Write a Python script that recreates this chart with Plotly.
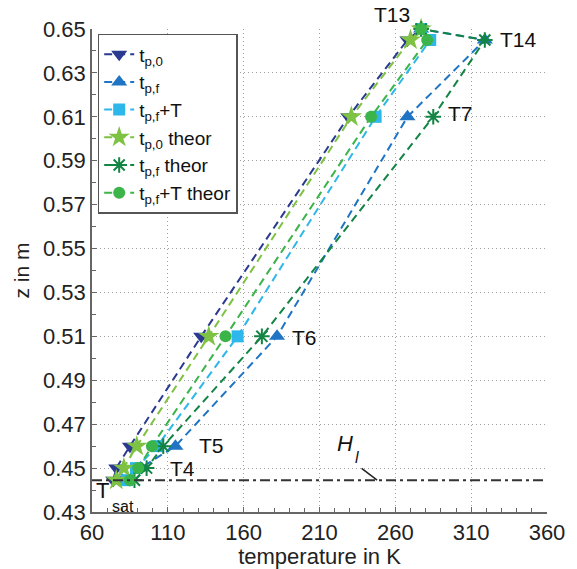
import plotly.graph_objects as go

# Axial positions of the sensors (m), from T_sat up to T13
z_levels = [0.4445, 0.45, 0.46, 0.51, 0.61, 0.645, 0.65]

# Wall temperatures (K) at each z level
t_p0 = [74, 76, 85, 132, 229, 268, 277]
t_pf = [80, 92, 115, 182, 268, 319, 277]
t_pfT = [83, 89, 103, 156, 247, 283, 277]
t_p0_theor = [76, 81, 89.5, 137, 231, 270, 277]
t_pf_theor = [88, 96, 107, 172, 285, 319, 277]
t_pfT_theor = [85, 90.5, 99.5, 148, 244, 281, 277]

series_names = [
    "t<sub>p,0</sub>",
    "t<sub>p,f</sub>",
    "t<sub>p,f</sub>+T",
    "t<sub>p,0</sub> theor",
    "t<sub>p,f</sub> theor",
    "t<sub>p,f</sub>+T theor",
]

# Liquid level
h_l = 0.4445

# Sensor labels inside the axes and their (temperature, z) anchor points
sensor_labels = ["T14", "T7", "T6", "T5", "T4"]
sensor_label_x = [341, 303, 200, 138.5, 119.5]
sensor_label_y = [0.645, 0.6115, 0.5097, 0.4605, 0.4499]

x_ticks = [60, 110, 160, 210, 260, 310, 360]
y_ticks = [0.43, 0.45, 0.47, 0.49, 0.51, 0.53, 0.55, 0.57, 0.59, 0.61, 0.63, 0.65]

FONT = "Liberation Sans, Arial, Helvetica, sans-serif"

styles = [
    dict(color="#2B3990", symbol="triangle-down", size=14),
    dict(color="#1F74C4", symbol="triangle-up", size=14),
    dict(color="#2DB7EA", symbol="square", size=12),
    dict(color="#7DC242", symbol="star", size=16),
    dict(color="#128443", symbol="asterisk-open", size=13),
    dict(color="#3BB44A", symbol="circle", size=12),
]

values = [t_p0, t_pf, t_pfT, t_p0_theor, t_pf_theor, t_pfT_theor]

fig = go.Figure()

for name, vals, st in zip(series_names, values, styles):
    marker = dict(symbol=st["symbol"], size=st["size"], color=st["color"])
    if st["symbol"] == "asterisk-open":
        marker["line"] = dict(color=st["color"], width=2)
    else:
        marker["line"] = dict(width=0)
    fig.add_trace(go.Scatter(
        x=vals, y=z_levels, name=name, mode="lines+markers",
        line=dict(color=st["color"], width=2, dash="8px,5px"),
        marker=marker,
        cliponaxis=False,
    ))

# Liquid level line
fig.add_shape(type="line", xref="paper", yref="y", x0=0, x1=1, y0=h_l, y1=h_l,
              line=dict(color="#333333", width=2, dash="10px,4px,3px,4px"))

label_font = dict(family=FONT, size=21, color="#111111")
annotations = []
for txt, lx, ly in zip(sensor_labels, sensor_label_x, sensor_label_y):
    annotations.append(dict(x=lx, y=ly, xref="x", yref="y", text=txt,
                            showarrow=False, xanchor="center", yanchor="middle",
                            font=label_font))

# T13 sits just above the top of the axes
annotations.append(dict(x=258, y=1.031, xref="x", yref="paper", text="T13",
                        showarrow=False, xanchor="center", yanchor="middle",
                        font=label_font))

# T_sat label (main letter with lowered subscript)
annotations.append(dict(x=67.2, y=0.4400, xref="x", yref="y", text="T", showarrow=False,
                        xanchor="center", yanchor="middle",
                        font=dict(family=FONT, size=22, color="#111111")))
annotations.append(dict(x=80.3, y=0.4323, xref="x", yref="y", text="sat", showarrow=False,
                        xanchor="center", yanchor="middle",
                        font=dict(family=FONT, size=16, color="#111111")))

# H_l label with leader line to the liquid level
annotations.append(dict(x=226.8, y=0.4612, xref="x", yref="y", text="<i>H</i>",
                        showarrow=False, xanchor="center", yanchor="middle",
                        font=dict(family=FONT, size=22, color="#111111")))
annotations.append(dict(x=234.4, y=0.4546, xref="x", yref="y", text="<i>l</i>",
                        showarrow=False, xanchor="center", yanchor="middle",
                        font=dict(family=FONT, size=16, color="#111111")))
annotations.append(dict(x=248, y=h_l, xref="x", yref="y", text="", showarrow=True,
                        ax=-17, ay=-13, arrowhead=0, arrowwidth=1.5,
                        arrowcolor="#222222", standoff=0))

fig.update_layout(
    width=577, height=569,
    margin=dict(l=92, r=30, t=29, b=57),
    paper_bgcolor="white", plot_bgcolor="white",
    font=dict(family=FONT, size=21, color="#222222"),
    showlegend=True,
    legend=dict(
        x=0.0125, y=0.99, xanchor="left", yanchor="top",
        bgcolor="white", bordercolor="#555555", borderwidth=1.5,
        font=dict(family=FONT, size=19, color="#111111"),
        tracegroupgap=0, itemwidth=30,
    ),
    annotations=annotations,
)

fig.update_xaxes(
    range=[60, 360], tickvals=x_ticks, ticktext=[str(v) for v in x_ticks],
    automargin=False,
    showline=True, linecolor="#666666", linewidth=1.5, mirror=False,
    ticks="inside", ticklen=5, tickcolor="#666666", tickwidth=1,
    minor=dict(dtick=10, ticks="inside", ticklen=4, tickcolor="#666666", showgrid=False),
    showgrid=True, gridcolor="#a0a0a0", griddash="1px,3px", gridwidth=1,
    zeroline=False,
    title=dict(text="temperature in K", font=dict(family=FONT, size=22, color="#222222"), standoff=4),
    tickfont=dict(family=FONT, size=22, color="#222222"),
)
fig.update_yaxes(
    range=[0.43, 0.65], tickvals=y_ticks, ticktext=[f"{v:.2f}" for v in y_ticks],
    automargin=False,
    showline=True, linecolor="#666666", linewidth=1.5, mirror=False,
    ticks="inside", ticklen=5, tickcolor="#666666", tickwidth=1,
    minor=dict(dtick=0.01, tick0=0.43, ticks="inside", ticklen=4, tickcolor="#666666", showgrid=False),
    showgrid=True, gridcolor="#a0a0a0", griddash="1px,3px", gridwidth=1,
    zeroline=False,
    title=dict(text="z in m", font=dict(family=FONT, size=21, color="#222222"), standoff=8),
    tickfont=dict(family=FONT, size=22, color="#222222"),
)

fig.write_html("out.html")
